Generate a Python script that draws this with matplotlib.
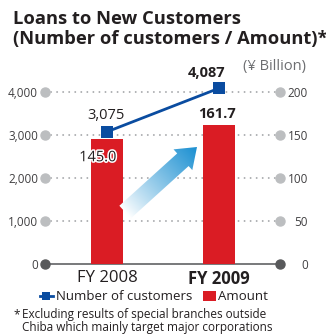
import numpy as np
import matplotlib
matplotlib.use("Agg")
import matplotlib.pyplot as plt
from matplotlib.lines import Line2D
from matplotlib.patches import Patch, Polygon
import matplotlib.patheffects as pe

plt.rcParams['font.family'] = ['Open Sans', 'DejaVu Sans']

# ---- data ----
years = ["FY 2008", "FY 2009"]
customers = [3075, 4087]          # number of customers (left axis)
amount = [145.0, 161.7]           # ¥ billion (right axis)
left_ticks = [0, 1000, 2000, 3000, 4000]
right_ticks = [0, 50, 100, 150, 200]
customer_labels = ["3,075", "4,087"]
amount_labels = ["145.0", "161.7"]

BLUE = "#0A4CA0"
RED = "#DA1C24"
TEXT = "#231F20"
GRID_DOT = "#BCBEC0"
ZERO = "#58595B"

W, H = 326, 335
fig = plt.figure(figsize=(W / 100, H / 100), dpi=100)

def px(x, y):
    return x / W, 1 - y / H

# axes frame: x from 45px to 280px, zero at 264px, 43px per 1000
x0, x1 = 45, 280
y_zero = 264
ymax = 4400
h_px = ymax / 1000 * 43
rect = [x0 / W, (H - y_zero) / H, (x1 - x0) / W, h_px / H]

ax2 = fig.add_axes(rect, zorder=1)    # amount (bars)
ax = fig.add_axes(rect, zorder=3)     # customers (line)
ax.patch.set_visible(False)

xlim = (-0.554, 1.545)
for a in (ax, ax2):
    a.set_xlim(*xlim)
    for s in a.spines.values():
        s.set_visible(False)
ax.set_ylim(0, ymax)
ax2.set_ylim(0, ymax / 20)

xpos = np.arange(len(years))

# gridlines with round end caps
for t in left_ticks:
    if t == 0:
        ax2.plot(xlim, [t, t], color="#6D6E71", lw=1.3, zorder=1, clip_on=False)
        ax2.plot(xlim, [t, t], ls="none", marker="o", ms=6.5, color=ZERO,
                 zorder=1.1, clip_on=False)
    else:
        ax2.plot(xlim, [t / 20, t / 20], color="#A7A9AC", lw=1.4,
                 ls=(0, (0.01, 3.1)), dash_capstyle="round", zorder=0.5,
                 clip_on=False)
        ax2.plot(xlim, [t / 20, t / 20], ls="none", marker="o", ms=6.5,
                 color=GRID_DOT, zorder=0.6, clip_on=False)

# bars
ax2.bar(xpos, amount, width=0.285, color=RED, zorder=2)

# line
ax.plot(xpos, customers, color=BLUE, lw=2.0, marker="s", ms=8,
        markeredgewidth=0, zorder=4, clip_on=False)

# ticks
ax.set_yticks(left_ticks)
ax.set_yticklabels([f"{t:,}" for t in left_ticks])
ax.tick_params(axis="y", length=0, pad=5, labelsize=8.5, labelcolor="#414042")
ax2.set_yticks(right_ticks)
ax2.set_yticklabels([str(t) for t in right_ticks])
ax2.yaxis.tick_right()
ax2.tick_params(axis="y", length=0, pad=20, labelsize=8.5, labelcolor="#414042")
for lab in ax2.get_yticklabels():
    lab.set_horizontalalignment("right")

ax.set_xticks(xpos)
ax.set_xticklabels(years)
ax.tick_params(axis="x", length=0, pad=4, labelsize=12, labelcolor=TEXT)
ax.get_xticklabels()[1].set_fontweight("bold")
ax2.set_xticks([])

# value labels
VAL_FS = 10.5
ax.annotate(customer_labels[0], (xpos[0], customers[0]), xytext=(-0.5, 9.5),
            textcoords="offset points", ha="center", va="baseline",
            fontsize=VAL_FS, color=TEXT)
ax.annotate(customer_labels[1], (xpos[1], customers[1]), xytext=(-8.6, 8),
            textcoords="offset points", ha="center", va="baseline",
            fontsize=VAL_FS, fontweight="bold", color=TEXT)
ax2.annotate(amount_labels[0], (xpos[0], amount[0]), xytext=(-6.5, -15.8),
             textcoords="offset points", ha="center", va="baseline",
             fontsize=VAL_FS, color=TEXT, zorder=5,
             path_effects=[pe.withStroke(linewidth=2.2, foreground="white")])
ax2.annotate(amount_labels[1], (xpos[1], amount[1]), xytext=(-1.4, 5),
             textcoords="offset points", ha="center", va="baseline",
             fontsize=VAL_FS, fontweight="bold", color=TEXT)

# growth arrow with gradient fill (pixel overlay)
ov = fig.add_axes([0, 0, 1, 1], zorder=2)
ov.set_xlim(0, W)
ov.set_ylim(H, 0)
ov.axis("off")
ov.patch.set_visible(False)

tip = np.array([197.0, 147.0])
d = np.array([0.742, -0.671])
d /= np.linalg.norm(d)
n = np.array([-d[1], d[0]])
length, head_len, head_hw, shaft_hw = 97.0, 19.0, 14.0, 8.5
tail = tip - d * length
hb = tip - d * head_len
poly = np.array([
    tail + n * shaft_hw, hb + n * shaft_hw, hb + n * head_hw, tip,
    hb - n * head_hw, hb - n * shaft_hw, tail - n * shaft_hw,
])
arrow = Polygon(poly, closed=True, facecolor="none", edgecolor="none")
ov.add_patch(arrow)
xmin, ymin = poly.min(axis=0) - 2
xmaxp, ymaxp = poly.max(axis=0) + 2
gx, gy = np.meshgrid(np.linspace(xmin, xmaxp, 200), np.linspace(ymin, ymaxp, 200))
t = ((gx - tail[0]) * d[0] + (gy - tail[1]) * d[1]) / length
t = np.clip(t, 0, 1) ** 0.9
c0 = np.array([1.0, 1.0, 1.0])
c1 = np.array([0.10, 0.56, 0.82])
img = c0[None, None, :] * (1 - t[..., None]) + c1[None, None, :] * t[..., None]
im = ov.imshow(img, extent=(xmin, xmaxp, ymaxp, ymin), origin="upper",
               interpolation="bilinear", aspect="auto")
im.set_clip_path(arrow)

# titles and notes
fig.text(*px(13, 24), "Loans to New Customers", fontsize=13.2, fontweight="bold",
         color=TEXT, va="baseline", ha="left")
fig.text(*px(13, 44), "(Number of customers / Amount)*", fontsize=13.2,
         fontweight="bold", color=TEXT, va="baseline", ha="left")
fig.text(*px(306, 70), "(¥ Billion)", fontsize=10.5, color="#6D6E71",
         va="baseline", ha="right")

handles = [
    Line2D([0], [0], color=BLUE, lw=2, marker="s", ms=6, markeredgewidth=0),
    Patch(facecolor=RED, edgecolor="none"),
]
fig.legend(handles, ["Number of customers", "Amount"], loc="center",
           bbox_to_anchor=px(154, 297), ncol=2, frameon=False, fontsize=9.5,
           handlelength=1.0, handletextpad=0.2, columnspacing=0.8,
           labelcolor=TEXT, borderpad=0, borderaxespad=0)

fig.text(*px(13, 318), "*", fontsize=8.5, color=TEXT, va="baseline", ha="left")
fig.text(*px(22, 318), "Excluding results of special branches outside",
         fontsize=8.5, color=TEXT, va="baseline", ha="left")
fig.text(*px(22, 331), "Chiba which mainly target major corporations",
         fontsize=8.5, color=TEXT, va="baseline", ha="left")

fig.savefig("out.png", dpi=100)
